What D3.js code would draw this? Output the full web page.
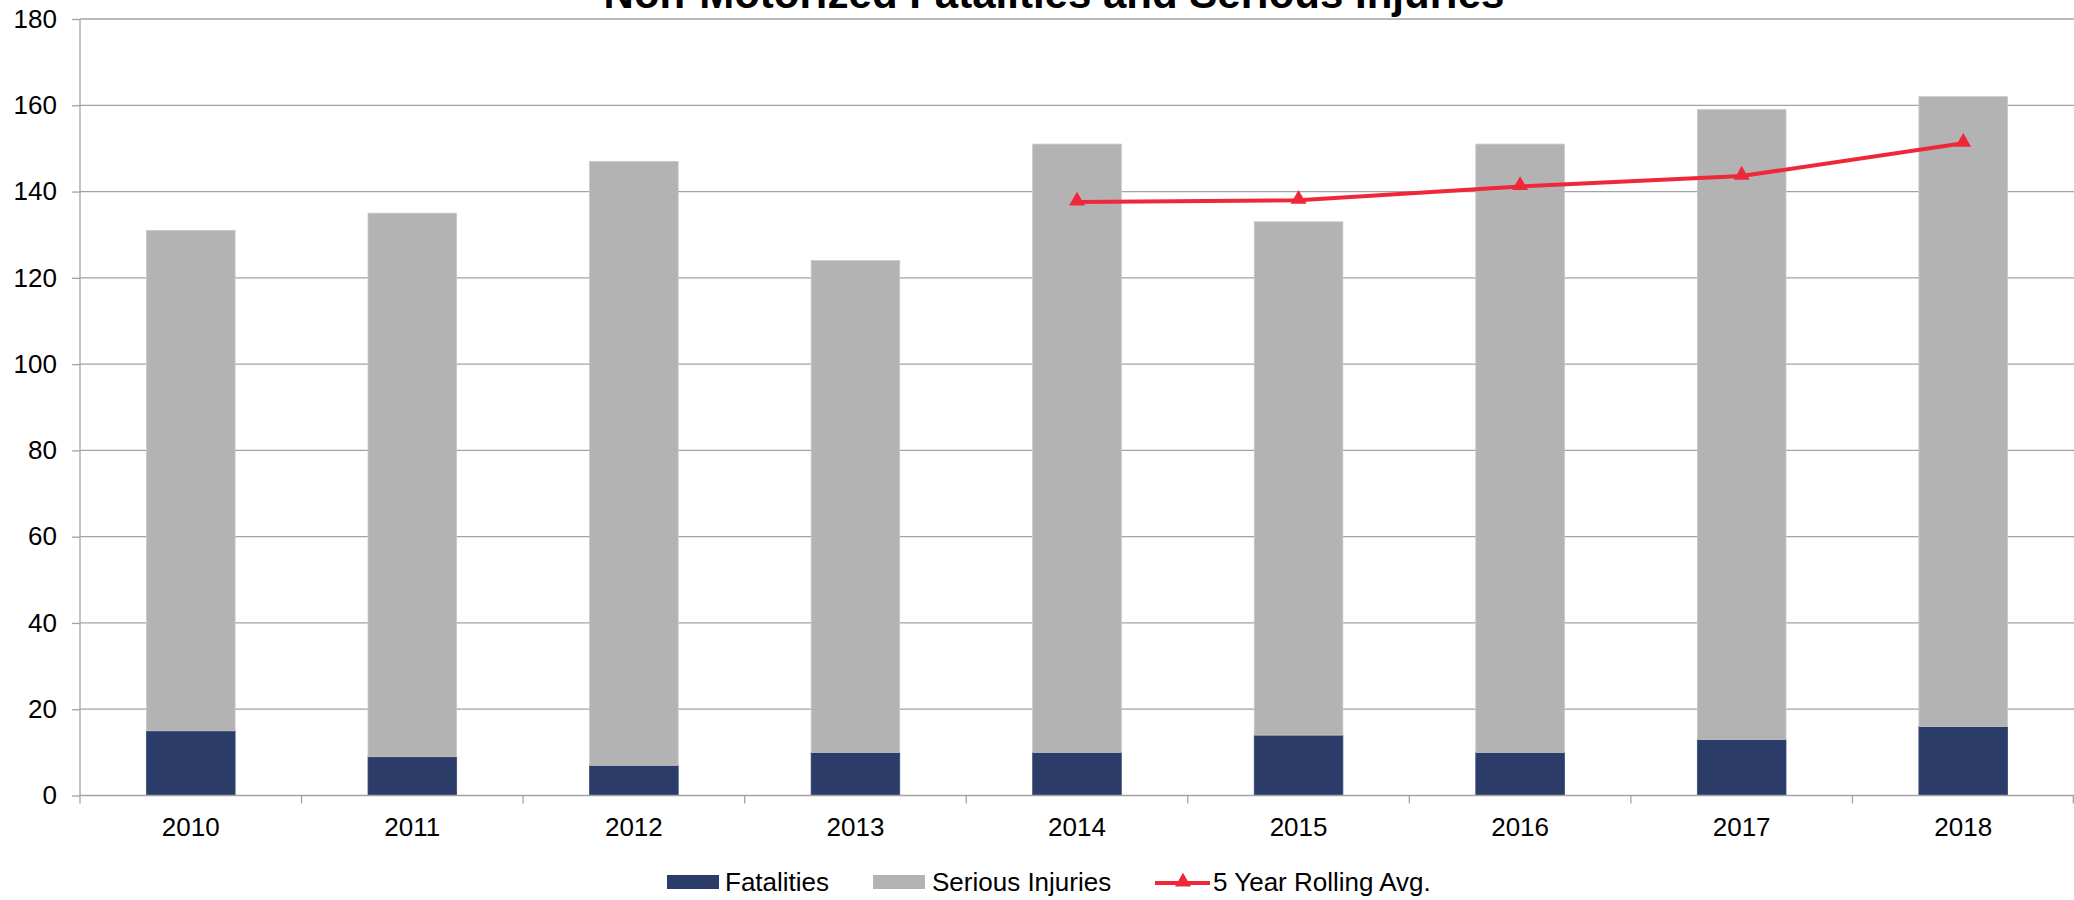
<!DOCTYPE html>
<html><head><meta charset="utf-8">
<script src="https://cdn.jsdelivr.net/npm/d3@7"></script>
<style>
html,body{margin:0;padding:0;background:#fff;overflow:hidden;}
svg{display:block;font-family:"Liberation Sans",Arial,sans-serif;}
</style></head>
<body>
<svg id="chart" width="2074" height="900"></svg>
<script>
const years = ["2010","2011","2012","2013","2014","2015","2016","2017","2018"];
const fatalities = [15, 9, 7, 10, 10, 14, 10, 13, 16];
const seriousInjuries = [116, 126, 140, 114, 141, 119, 141, 146, 146];
const rollingYears = ["2014","2015","2016","2017","2018"];
const rollingAvg = [137.6, 138, 141.2, 143.6, 151.2];
const yTicks = [0, 20, 40, 60, 80, 100, 120, 140, 160, 180];
const title = "Non-Motorized Fatalities and Serious Injuries";
const legendLabels = ["Fatalities", "Serious Injuries", "5 Year Rolling Avg."];

(function () {
const C_FAT = "#2b3c69", C_SI = "#b3b3b3", C_LINE = "#ef2839", C_GRID = "#a3a3a3";

const svg = d3.select("#chart");
const pLeft = 80, pRight = 2074, pTop = 19, pBottom = 795.5;

const x = d3.scaleBand().domain(years).range([pLeft, pRight]).paddingInner(0.6).paddingOuter(0.3);
const xb = d3.scaleBand().domain(years).range([pLeft, pRight]).padding(0);
const y = d3.scaleLinear().domain([0, 180]).range([pBottom, pTop]);

// gridlines
svg.append("g").selectAll("line").data(yTicks.filter(d => d > 0)).join("line")
  .attr("x1", pLeft).attr("x2", pRight)
  .attr("y1", d => y(d)).attr("y2", d => y(d))
  .attr("stroke", C_GRID).attr("stroke-width", 1.3);

// bars
const stackData = years.map((yr, i) => ({year: yr, fat: fatalities[i], si: seriousInjuries[i]}));
const stacked = d3.stack().keys(["fat", "si"])(stackData);
const colors = {fat: C_FAT, si: C_SI};
stacked.forEach(layer => {
  svg.append("g").selectAll("rect").data(layer).join("rect")
    .attr("x", d => x(d.data.year))
    .attr("width", x.bandwidth())
    .attr("y", d => y(d[1]))
    .attr("height", d => y(d[0]) - y(d[1]))
    .attr("fill", colors[layer.key])
    .attr("stroke", layer.key === "si" ? "#c8c8c8" : "#3a4a75")
    .attr("stroke-width", 0.8);
});

// y axis
const yAxis = svg.append("g").attr("transform", `translate(${pLeft},0)`)
  .call(d3.axisLeft(y).tickValues(yTicks).tickSize(8).tickPadding(15).tickFormat(d3.format("d")));
yAxis.select(".domain").remove();
yAxis.selectAll(".tick line").attr("stroke", C_GRID).attr("stroke-width", 1.3);
yAxis.selectAll("text").attr("font-size", 26).attr("fill", "#000")
  .attr("font-family", "Liberation Sans, Arial, sans-serif");
svg.append("line").attr("x1", pLeft).attr("x2", pLeft).attr("y1", pTop).attr("y2", pBottom + 8)
  .attr("stroke", C_GRID).attr("stroke-width", 1.3);

// x axis
svg.append("line").attr("x1", pLeft).attr("x2", pRight).attr("y1", pBottom).attr("y2", pBottom)
  .attr("stroke", C_GRID).attr("stroke-width", 1.3);
svg.append("g").selectAll("line").data(years.slice(1)).join("line")
  .attr("x1", d => xb(d)).attr("x2", d => xb(d))
  .attr("y1", pBottom).attr("y2", pBottom + 8)
  .attr("stroke", C_GRID).attr("stroke-width", 1.3);
svg.append("line").attr("x1", pRight - 0.7).attr("x2", pRight - 0.7).attr("y1", pBottom).attr("y2", pBottom + 8)
  .attr("stroke", C_GRID).attr("stroke-width", 1.3);
svg.append("g").selectAll("text").data(years).join("text")
  .attr("x", d => x(d) + x.bandwidth() / 2).attr("y", 836)
  .attr("text-anchor", "middle").attr("font-size", 26).attr("fill", "#000")
  .text(d => d);

// rolling avg line
const line = d3.line().x((d, i) => x(rollingYears[i]) + x.bandwidth() / 2).y(d => y(d));
svg.append("path").datum(rollingAvg).attr("d", line)
  .attr("fill", "none").attr("stroke", C_LINE).attr("stroke-width", 4);
const tri = d3.symbol().type(d3.symbolTriangle).size(110);
svg.append("g").selectAll("path").data(rollingAvg).join("path")
  .attr("transform", (d, i) => `translate(${x(rollingYears[i]) + x.bandwidth() / 2},${y(d) - 1})`)
  .attr("d", tri).attr("fill", C_LINE);

// title
svg.append("text").attr("x", 1054).attr("y", 8).attr("text-anchor", "middle")
  .attr("font-size", 42).attr("font-weight", "bold").attr("fill", "#000").text(title);

// legend
const lg = svg.append("g");
lg.append("rect").attr("x", 667).attr("y", 875).attr("width", 52).attr("height", 14).attr("fill", C_FAT);
lg.append("text").attr("x", 725).attr("y", 891).attr("font-size", 26).text(legendLabels[0]);
lg.append("rect").attr("x", 873).attr("y", 875).attr("width", 52).attr("height", 14).attr("fill", C_SI);
lg.append("text").attr("x", 932).attr("y", 891).attr("font-size", 26).text(legendLabels[1]);
lg.append("line").attr("x1", 1155).attr("x2", 1210).attr("y1", 883).attr("y2", 883)
  .attr("stroke", C_LINE).attr("stroke-width", 4);
lg.append("path").attr("transform", "translate(1183,882)").attr("d", tri).attr("fill", C_LINE);
lg.append("text").attr("x", 1213).attr("y", 891).attr("font-size", 26).text(legendLabels[2]);
})();
</script>
</body></html>
